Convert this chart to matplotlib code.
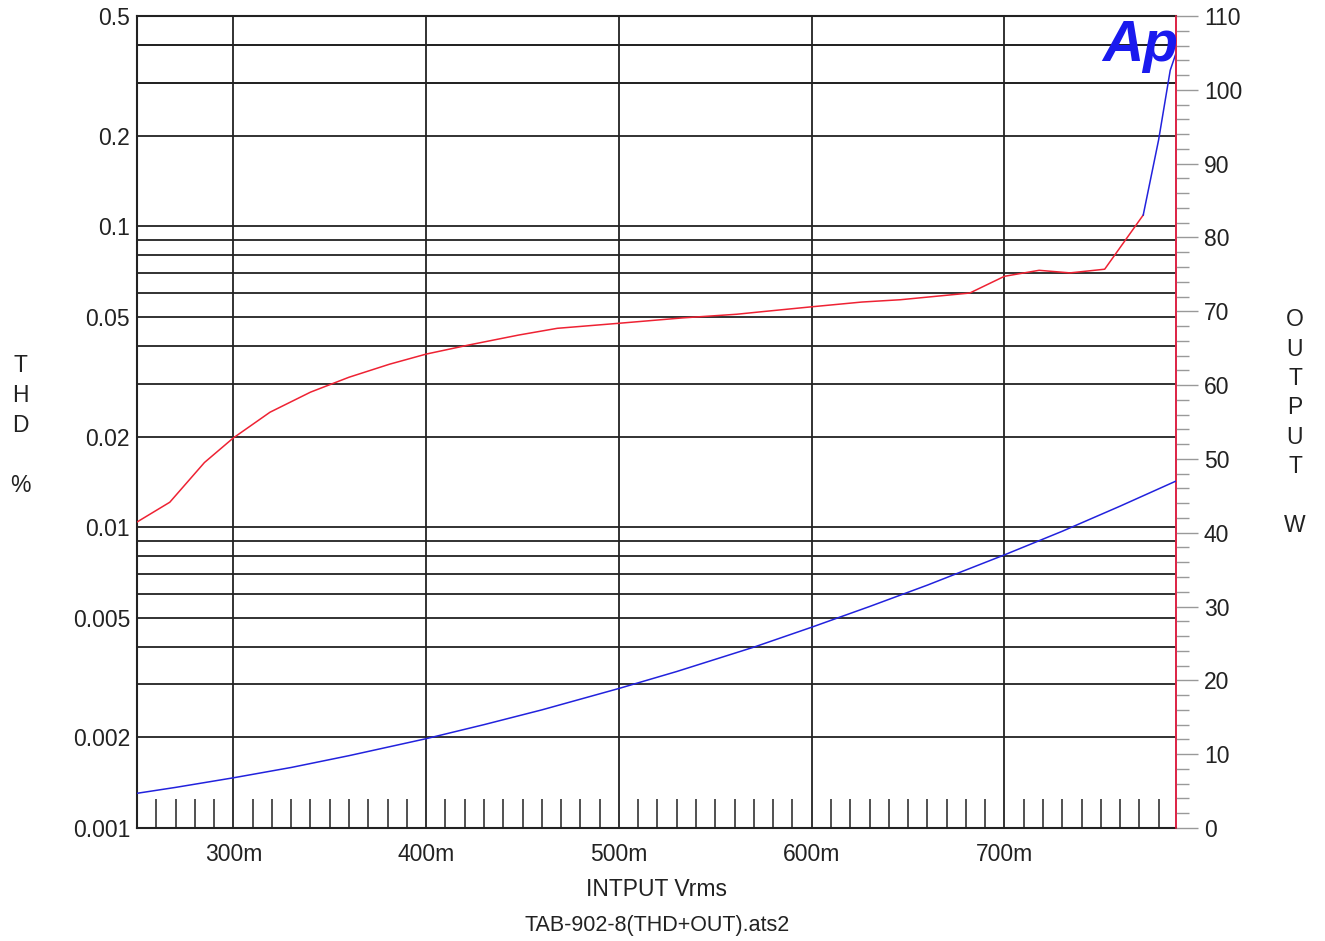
import matplotlib.pyplot as plt
from matplotlib.ticker import FixedLocator, NullFormatter

plt.rcParams["font.family"] = ["Liberation Sans", "DejaVu Sans"]

# THD+N (%) vs input voltage (V)
thd_v = [0.250, 0.267, 0.285, 0.300, 0.319, 0.340, 0.360, 0.381, 0.400, 0.422,
         0.448, 0.468, 0.500, 0.533, 0.561, 0.574, 0.600, 0.626, 0.646, 0.682,
         0.700, 0.718, 0.734, 0.752, 0.772]
thd_pct = [0.0104, 0.0121, 0.0164, 0.0198, 0.0241, 0.0281, 0.0315, 0.0348, 0.0376, 0.0403,
           0.0435, 0.0458, 0.0476, 0.0496, 0.0510, 0.0520, 0.0540, 0.0560, 0.0570, 0.0600,
           0.0682, 0.0714, 0.0700, 0.0720, 0.1090]

# clipping tail drawn in blue
clip_v = [0.772, 0.780, 0.786, 0.789]
clip_pct = [0.109, 0.194, 0.330, 0.376]

# output power (W) vs input voltage (V)
pwr_v = [0.250, 0.270, 0.300, 0.330, 0.360, 0.400, 0.430, 0.460, 0.500, 0.530,
         0.570, 0.600, 0.630, 0.660, 0.700, 0.730, 0.760, 0.789]
pwr_w = [4.7, 5.5, 6.8, 8.2, 9.8, 12.1, 14.0, 16.0, 18.9, 21.2,
         24.5, 27.2, 30.0, 32.9, 37.0, 40.2, 43.6, 47.0]

x_major = [0.3, 0.4, 0.5, 0.6, 0.7]
x_labels = ["300m", "400m", "500m", "600m", "700m"]
x_minor = [i / 1000 for i in range(260, 790, 10)]

y_major = [0.001, 0.002, 0.005, 0.01, 0.02, 0.05, 0.1, 0.2, 0.5]
y_labels = ["0.001", "0.002", "0.005", "0.01", "0.02", "0.05", "0.1", "0.2", "0.5"]
y_minor = [m * d for d in (0.001, 0.01, 0.1) for m in range(1, 10)] + [0.3, 0.4]

FS = 16.5

fig = plt.figure(figsize=(13.25, 9.41), dpi=100)
ax = fig.add_axes([137 / 1325, 1 - 828 / 941, (1176 - 137) / 1325, (828 - 16) / 941])
ax.set_yscale("log")
ax.set_xlim(0.250, 0.789)
ax.set_ylim(0.001, 0.5)

for y in y_minor:
    ax.axhline(y, color="#222222", lw=1.3, zorder=1)
for x in x_major:
    ax.axvline(x, color="#222222", lw=1.3, zorder=1)

ax.yaxis.set_major_locator(FixedLocator(y_major))
ax.yaxis.set_minor_locator(FixedLocator([]))
ax.yaxis.set_minor_formatter(NullFormatter())
ax.set_yticklabels(y_labels)
ax.tick_params(axis="y", length=0, labelsize=FS, pad=5, colors="#222222")

ax.xaxis.set_major_locator(FixedLocator(x_major))
ax.set_xticklabels(x_labels)
ax.xaxis.set_minor_locator(FixedLocator(x_minor))
ax.tick_params(axis="x", which="major", length=0, labelsize=FS, pad=11, colors="#222222")
ax.tick_params(axis="x", which="minor", direction="in", length=21, width=1.2, color="#333333")

ax.plot(thd_v, thd_pct, color="#ee2233", lw=1.1, zorder=3)
ax.plot(clip_v, clip_pct, color="#2222dd", lw=1.1, zorder=3)

for s in ("left", "bottom", "top"):
    ax.spines[s].set_color("#222222")
    ax.spines[s].set_linewidth(1.5)
ax.spines["right"].set_color("#dd2244")
ax.spines["right"].set_linewidth(1.2)

ax2 = ax.twinx()
ax2.set_ylim(0, 110)
ax2.plot(pwr_v, pwr_w, color="#2222dd", lw=1.1, zorder=3)
ax2.set_yticks(range(0, 111, 10))
ax2.set_yticks(range(0, 111, 2), minor=True)
ax2.tick_params(axis="y", which="major", direction="out", length=16, width=1,
                color="#999999", labelsize=FS, pad=4, labelcolor="#222222")
ax2.tick_params(axis="y", which="minor", direction="out", length=9, width=1, color="#999999")
for s in ("left", "bottom", "top"):
    ax2.spines[s].set_visible(False)
ax2.spines["right"].set_color("#dd2244")
ax2.spines["right"].set_linewidth(1.2)

fig.text(1140 / 1325, 1 - 46 / 941, "Ap", color="#1a1aee", fontsize=41,
         fontweight="heavy", fontstyle="italic", ha="center", va="center")

for i, ch in enumerate(["T", "H", "D", "", "%"]):
    fig.text(20 / 1325, 1 - (365 + 30 * i) / 941, ch, fontsize=FS, ha="center",
             va="center", color="#222222")
for i, ch in enumerate(["O", "U", "T", "P", "U", "T", "", "W"]):
    fig.text(1295 / 1325, 1 - (320 + 29.3 * i) / 941, ch, fontsize=FS, ha="center",
             va="center", color="#222222")

fig.text(657 / 1325, 1 - 890 / 941, "INTPUT Vrms", fontsize=FS, ha="center",
         va="center", color="#222222")
fig.text(657 / 1325, 1 - 926 / 941, "TAB-902-8(THD+OUT).ats2", fontsize=15.5,
         ha="center", va="center", color="#222222")

fig.savefig("out.png", dpi=100)
